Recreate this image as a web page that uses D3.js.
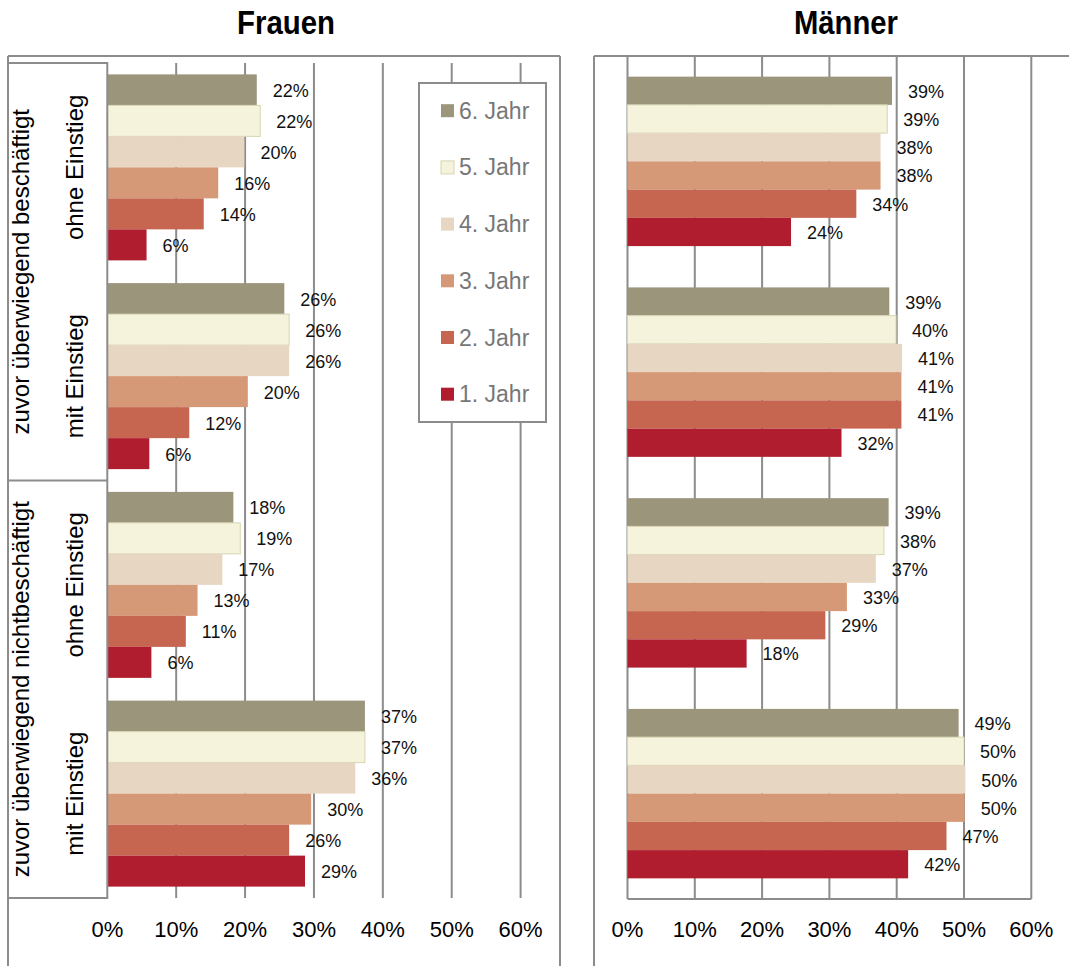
<!DOCTYPE html>
<html><head><meta charset="utf-8">
<script src="https://cdn.jsdelivr.net/npm/d3@7"></script>
<style>body{margin:0;background:#fff}svg{display:block;font-family:"Liberation Sans",Arial,sans-serif}</style>
</head><body><svg id="c" width="1069" height="966"></svg>
<script>
const years = ["6. Jahr","5. Jahr","4. Jahr","3. Jahr","2. Jahr","1. Jahr"];
const groups = ["beschOhne","beschMit","nichtOhne","nichtMit"];
const innerLabels = ["ohne Einstieg","mit Einstieg","ohne Einstieg","mit Einstieg"];
const outerLabels = ["zuvor überwiegend beschäftigt","zuvor überwiegend nichtbeschäftigt"];
const ticks = [0,10,20,30,40,50,60];
const tickLabels = ["0%","10%","20%","30%","40%","50%","60%"];
const colors = ["#9b957c","#f5f3dc","#e7d6c1","#d69977","#c66651","#af1d2e"];

// values in %, order: 6. Jahr ... 1. Jahr
const frauenBeschOhne = [21.7,22.2,19.9,16.1,14.0,5.7];
const frauenBeschMit  = [25.7,26.4,26.4,20.4,11.9,6.1];
const frauenNichtOhne = [18.3,19.3,16.7,13.1,11.4,6.4];
const frauenNichtMit  = [37.4,37.4,36.0,29.6,26.4,28.7];
const maennerBeschOhne = [39.3,38.6,37.6,37.6,34.0,24.3];
const maennerBeschMit  = [38.9,39.9,40.8,40.7,40.7,31.8];
const maennerNichtOhne = [38.8,38.1,36.9,32.6,29.4,17.7];
const maennerNichtMit  = [49.2,50.0,50.2,50.1,47.4,41.7];

const frauen = [frauenBeschOhne,frauenBeschMit,frauenNichtOhne,frauenNichtMit];
const maenner = [maennerBeschOhne,maennerBeschMit,maennerNichtOhne,maennerNichtMit];

const svg = d3.select("#c");
const grey = "#8c8c8c";

function line(x1,y1,x2,y2){svg.append("line").attr("x1",x1).attr("y1",y1).attr("x2",x2).attr("y2",y2).attr("stroke",grey).attr("stroke-width",2);}

// frames
line(8,56,8,966); line(8,56,560,56); line(560,56,560,966);
line(594,56,594,966); line(594,56,1069,56);

function panel(data, x0, x1, top, bottom, pad, bottomLine, showZero){
  const x = d3.scaleLinear().domain([0,60]).range([x0,x1]);
  const gy = d3.scaleBand().domain(groups).range([top,bottom]).paddingInner(pad).paddingOuter(pad/2);
  const by = d3.scaleBand().domain(years).range([0,gy.bandwidth()]);
  const g = svg.append("g");
  ticks.forEach((t,i)=>{
    if(i===0 && !showZero) return;
    g.append("line").attr("x1",x(t)).attr("x2",x(t)).attr("y1",top).attr("y2",bottom).attr("stroke",grey).attr("stroke-width",2);
  });
  if(bottomLine) g.append("line").attr("x1",x(0)).attr("x2",x(60)).attr("y1",bottom).attr("y2",bottom).attr("stroke",grey).attr("stroke-width",2);
  groups.forEach((grp,gi)=>{
    years.forEach((yr,yi)=>{
      const v = data[gi][yi];
      const y = gy(grp)+by(yr);
      g.append("rect").attr("x",x(0)).attr("y",y).attr("width",x(v)-x(0)).attr("height",by.bandwidth())
        .attr("fill",colors[yi]).attr("stroke",yi===1?"#d8d4b2":"none").attr("stroke-width",yi===1?1:0);
      g.append("text").attr("x",x(v)+16).attr("y",y+by.bandwidth()/2+7).attr("font-size",18).attr("fill","#111")
        .text(Math.round(v)+"%");
    });
  });
  ticks.forEach((t,i)=>{
    g.append("text").attr("x",x(t)).attr("y",937).attr("text-anchor","middle").attr("font-size",22).attr("fill","#000").text(tickLabels[i]);
  });
  return gy;
}

const gyL = panel(frauen, 107.3, 520.6, 63, 898, 0.109, false, false);
panel(maenner, 627.5, 1031.3, 56, 899, 0.196, true, true);

// left label box
svg.append("rect").attr("x",8).attr("y",63).attr("width",99.3).attr("height",835).attr("fill","none").attr("stroke",grey).attr("stroke-width",2);
line(8,480.5,107.3,480.5);
groups.forEach((grp,gi)=>{
  const cy = gyL(grp)+gyL.bandwidth()/2;
  svg.append("text").attr("transform",`translate(83,${cy}) rotate(-90)`).attr("text-anchor","middle").attr("font-size",24).attr("fill","#000").text(innerLabels[gi]);
});
outerLabels.forEach((t,i)=>{
  const cy = i===0 ? (63+480.5)/2 : (480.5+898)/2;
  svg.append("text").attr("transform",`translate(29,${cy}) rotate(-90)`).attr("text-anchor","middle").attr("font-size",24).attr("fill","#000").text(t);
});

// legend
svg.append("rect").attr("x",419).attr("y",83).attr("width",127).attr("height",339).attr("fill","#fff").attr("stroke",grey).attr("stroke-width",2);
years.forEach((yr,i)=>{
  const cy = 110.7 + i*56.7;
  svg.append("rect").attr("x",441).attr("y",cy-6.5).attr("width",13).attr("height",13).attr("fill",colors[i]).attr("stroke",i===1?"#d8d4b2":"none");
  svg.append("text").attr("x",459).attr("y",cy+8).attr("font-size",23).attr("fill","#777").text(yr);
});

// titles
svg.append("text").attr("x",286).attr("y",34).attr("text-anchor","middle").attr("font-size",33).attr("font-weight","bold")
  .attr("textLength",98).attr("lengthAdjust","spacingAndGlyphs").text("Frauen");
svg.append("text").attr("x",846).attr("y",34).attr("text-anchor","middle").attr("font-size",33).attr("font-weight","bold")
  .attr("textLength",104).attr("lengthAdjust","spacingAndGlyphs").text("Männer");
</script></body></html>
